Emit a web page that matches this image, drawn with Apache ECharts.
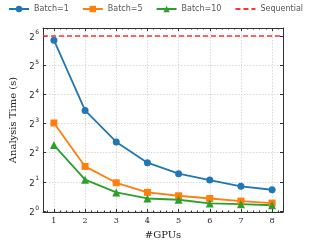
<!DOCTYPE html>
<html><head><meta charset="utf-8">
<script src="https://cdn.jsdelivr.net/npm/echarts@6/dist/echarts.min.js"></script>
<style>html,body{margin:0;padding:0;background:#fff}#c{width:312px;height:245px}</style>
</head><body><div id="c"></div>
<script>
var gpus = [1, 2, 3, 4, 5, 6, 7, 8];
var batch1 = [57.8, 10.9, 5.17, 3.16, 2.43, 2.09, 1.80, 1.66];
var batch5 = [8.1, 2.89, 1.96, 1.56, 1.44, 1.35, 1.27, 1.21];
var batch10 = [4.79, 2.11, 1.56, 1.35, 1.31, 1.20, 1.18, 1.15];
var sequentialTime = 64;
var yTickExponents = [0, 1, 2, 3, 4, 5, 6];

function pairs(arr){ return gpus.map(function(g,i){ return [g, arr[i]]; }); }
var serif = '"DejaVu Serif", serif';
var sans = '"DejaVu Sans", sans-serif';

var chart = echarts.init(document.getElementById('c'), null, {renderer:'canvas'});
var gridLine = {show:true, lineStyle:{color:'#cfcfcf', type:[1.5,1.5], width:0.8}};
var axisLine = {show:true, onZero:false, lineStyle:{color:'#333', width:1}};
function yfmt(v){
  var e = Math.log2(v);
  var r = Math.round(e);
  if (Math.abs(e - r) < 1e-6 && yTickExponents.indexOf(r) >= 0) return '{b|2}{s|' + r + '}';
  return '';
}
function xfmt(v){ return Math.abs(v - Math.round(v)) < 1e-6 ? String(Math.round(v)) : ''; }
var option = {
  animation:false,
  grid:{left:32, right:29, top:28, bottom:31, containLabel:false},
  legend:{
    top:5, left:8, width:304, padding:0, itemWidth:20, itemHeight:8, itemGap:13,
    textStyle:{fontFamily:sans, fontSize:8, color:'#555'},
    data:['Batch=1','Batch=5','Batch=10',
      {name:'Sequential', itemStyle:{color:'transparent', borderWidth:0}}]
  },
  xAxis:[{
    type:'value', min:0.65, max:8.35, splitNumber:8,
    name:'#GPUs', nameLocation:'middle', nameGap:18,
    nameTextStyle:{fontFamily:serif, fontSize:10, color:'#222'},
    axisLine:axisLine,
    axisTick:{show:true, inside:true, length:3, lineStyle:{color:'#333'}},
    minorTick:{show:true, splitNumber:5, length:1.5, lineStyle:{color:'#333'}},
    axisLabel:{formatter:xfmt, fontFamily:serif, fontSize:8, color:'#222', margin:5, showMinLabel:false, showMaxLabel:false},
    splitLine:gridLine
  },{
    type:'value', position:'top', min:0.65, max:8.35, splitNumber:8,
    axisLine:axisLine,
    axisTick:{show:true, inside:true, length:3, lineStyle:{color:'#333'}},
    minorTick:{show:true, splitNumber:5, length:1.5, lineStyle:{color:'#333'}},
    axisLabel:{show:false}, splitLine:{show:false}
  }],
  yAxis:[{
    type:'log', logBase:2, min:Math.pow(2,-0.03), max:Math.pow(2,6.27),
    name:'Analysis Time (s)', nameLocation:'middle', nameGap:25,
    nameTextStyle:{fontFamily:serif, fontSize:10, color:'#222'},
    axisLine:axisLine,
    axisTick:{show:true, inside:true, length:3, lineStyle:{color:'#333'}},
    axisLabel:{formatter:yfmt, color:'#222', margin:4, showMinLabel:false, showMaxLabel:false,
      rich:{
        b:{fontFamily:sans, fontSize:8.5, lineHeight:12, verticalAlign:'bottom', color:'#222'},
        s:{fontFamily:sans, fontSize:6, lineHeight:12, verticalAlign:'top', color:'#222', padding:[0,0,0,0.5]}
      }},
    splitLine:gridLine
  },{
    type:'log', logBase:2, position:'right', min:Math.pow(2,-0.03), max:Math.pow(2,6.27),
    axisLine:axisLine,
    axisTick:{show:true, inside:true, length:3, lineStyle:{color:'#333'}},
    axisLabel:{show:false}, splitLine:{show:false}
  }],
  series:[
    {name:'Batch=1', type:'line', data:pairs(batch1), symbol:'circle', symbolSize:7,
     itemStyle:{color:'#1f77b4'}, lineStyle:{width:1.8, color:'#1f77b4'}},
    {name:'Batch=5', type:'line', data:pairs(batch5), symbol:'rect', symbolSize:7,
     itemStyle:{color:'#ff7f0e'}, lineStyle:{width:1.8, color:'#ff7f0e'}},
    {name:'Batch=10', type:'line', data:pairs(batch10), symbol:'triangle', symbolSize:8,
     itemStyle:{color:'#2ca02c'}, lineStyle:{width:1.8, color:'#2ca02c'}},
    {name:'Sequential', type:'line', data:[], symbol:'none',
     itemStyle:{color:'#f33'}, lineStyle:{width:1.6, type:[5,3], color:'#f33'},
     markLine:{silent:true, symbol:'none', label:{show:false},
       lineStyle:{color:'#f33', width:1.6, type:[5,3]},
       data:[{yAxis:sequentialTime}]}}
  ]
};
chart.setOption(option);
</script></body></html>
